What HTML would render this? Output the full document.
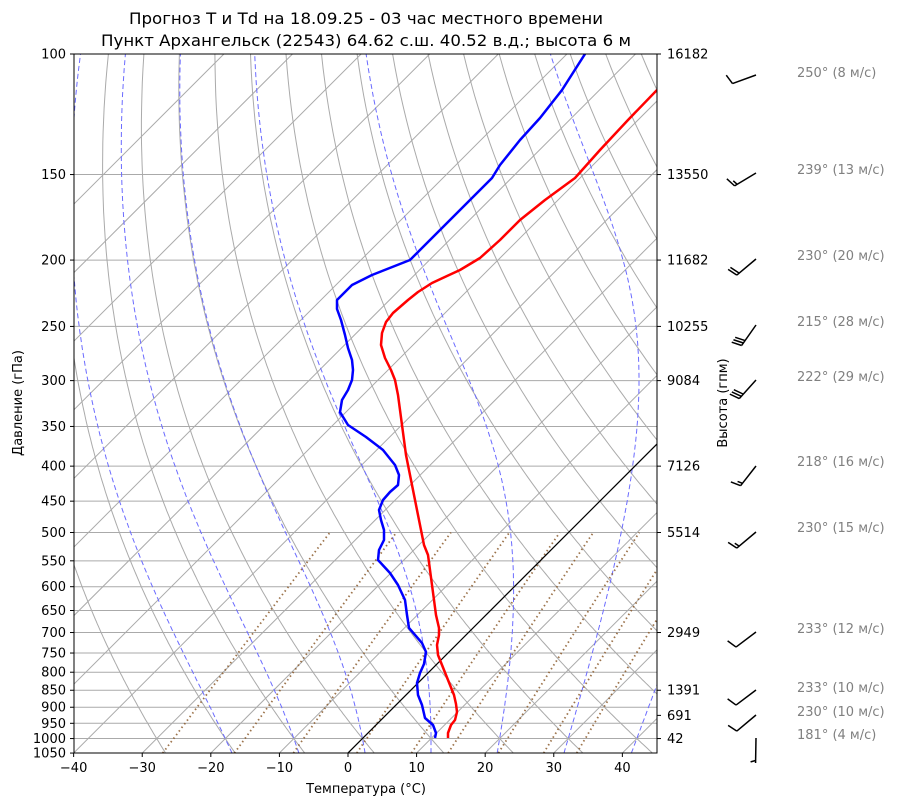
<!DOCTYPE html>
<html><head><meta charset="utf-8"><style>
html,body{margin:0;padding:0;background:#fff;width:900px;height:806px;overflow:hidden}
svg text{font-family:"DejaVu Sans","Liberation Sans",sans-serif}
</style></head><body>
<svg id="s" width="900" height="806" xmlns="http://www.w3.org/2000/svg">
<defs><clipPath id="c"><rect x="74" y="54" width="583" height="699"/></clipPath></defs>
<rect width="900" height="806" fill="#fff"/>
<g id="grid" clip-path="url(#c)"></g>
<g id="ax"></g>
<text x="366" y="24" font-size="16" text-anchor="middle" textLength="474" lengthAdjust="spacingAndGlyphs">Прогноз T и Td на 18.09.25 - 03 час местного времени</text>
<text x="366" y="46" font-size="16" text-anchor="middle" textLength="530" lengthAdjust="spacingAndGlyphs">Пункт Архангельск (22543) 64.62 с.ш. 40.52 в.д.; высота 6 м</text>
<text x="366" y="793" font-size="13" text-anchor="middle">Температура (°C)</text>
<text transform="translate(22,403) rotate(-90)" font-size="13" text-anchor="middle">Давление (гПа)</text>
<text transform="translate(727,403) rotate(-90)" font-size="13" text-anchor="middle">Высота (гпм)</text>
</svg>
<script>
var NS="http://www.w3.org/2000/svg";
function el(p,t,a){var e=document.createElementNS(NS,t);for(var k in a)e.setAttribute(k,a[k]);p.appendChild(e);return e;}
var g=document.getElementById('grid'),ax=document.getElementById('ax');
function Y(p){return 54+297.3*Math.log(p/100);}
function X(T,p){return 348+T*6.859+(753-Y(p));}
function pl(pts,a){var d=pts.map(function(q,i){return (i?'L':'M')+q[0].toFixed(1)+' '+q[1].toFixed(1)}).join('');a.d=d;a.fill='none';return el(g,'path',a);}
var P=[];for(var p=1050;p>=100;p-=5)P.push(p);
[100,150,200,250,300,350,400,450,500,550,600,650,700,750,800,850,900,950,1000,1050].forEach(function(p){el(g,'line',{x1:74,x2:657,y1:Y(p),y2:Y(p),stroke:'#aaa','stroke-width':1});});
for(var t=-120;t<=50;t+=10){pl([[X(t,1050),Y(1050)],[X(t,100),Y(100)]],{stroke:'#aaa','stroke-width':1});}
for(var t0=-30;t0<200;t0+=10){pl(P.map(function(p){return [X((t0+273.15)*Math.pow(p/1000,0.2857)-273.15,p),Y(p)]}),{stroke:'#aaa','stroke-width':1});}
function es(T){return 6.112*Math.exp(17.67*T/(T+243.5));}
function dTdp(T,p){var Tk=T+273.15,e=es(T),rs=0.622*e/(p-e),Rd=287.04,Lv=2.501e6,Cp=1005.7;return (Rd*Tk+Lv*rs)/(Cp+Lv*Lv*rs*0.622/(Rd*Tk*Tk))/p;}
function moist(t0){var up=[],T=t0,p=1000;up.push([T,p]);while(p>100){var h=-5;var k1=dTdp(T,p),k2=dTdp(T+h*k1/2,p+h/2),k3=dTdp(T+h*k2/2,p+h/2),k4=dTdp(T+h*k3,p+h);T+=h*(k1+2*k2+2*k3+k4)/6;p+=h;up.push([T,p]);}
T=t0;p=1000;var dn=[];while(p<1050){var h=5;var k1=dTdp(T,p),k2=dTdp(T+h*k1/2,p+h/2),k3=dTdp(T+h*k2/2,p+h/2),k4=dTdp(T+h*k3,p+h);T+=h*(k1+2*k2+2*k3+k4)/6;p+=h;dn.push([T,p]);}
return dn.reverse().concat(up);}
for(var t0=-50;t0<=40;t0+=10){var pts=moist(t0);if(t0<=-30)pts=pts.filter(function(q){return q[1]<=500;});pl(pts.map(function(q){return [X(q[0],q[1]),Y(q[1])]}),{stroke:'#6b6bff','stroke-width':1,'stroke-dasharray':'5,3'});}
[0.0004,0.001,0.002,0.004,0.007,0.01,0.016,0.024,0.032].forEach(function(w){var pts=[];for(var p=1050;p>=500;p-=10){var e=p*w/(0.622+w),l=Math.log(e/6.112),Td=243.5*l/(17.67-l);pts.push([X(Td,p),Y(p)]);}pl(pts,{stroke:'#8b5a2b','stroke-width':1.8,'stroke-dasharray':'1.5,3','opacity':0.85});});
pl([[X(0,1050),Y(1050)],[X(0,100),Y(100)]],{stroke:'#000','stroke-width':1.2});
var red=[[448,738],[448,733],[451,725],[455,720],[457,712],[456,704],[454,695],[450,685],[446,675],[442,665],[438,655],[437,645],[439,635],[439,628],[436,615],[434,600],[432,585],[430,570],[428,555],[424,545],[421,530],[418,515],[415,500],[412,485],[409,470],[406,455],[404,440],[402,425],[400,410],[398,395],[395,380],[391,370],[385,358],[381,345],[382,333],[386,322],[393,313],[408,300],[418,292],[432,283],[447,276],[460,270],[480,258],[500,240],[520,220],[545,200],[575,178],[600,150],[628,120],[657,90]];
var blue=[[435,738],[436,733],[433,725],[425,718],[422,705],[418,695],[417,683],[420,673],[424,664],[426,652],[422,643],[409,628],[407,615],[405,600],[398,585],[390,573],[378,560],[379,550],[384,540],[384,530],[381,520],[379,510],[383,500],[390,492],[398,485],[399,475],[395,465],[383,450],[366,437],[348,425],[340,412],[342,400],[348,390],[352,380],[353,370],[352,360],[348,348],[345,335],[341,320],[337,309],[337,300],[352,285],[372,275],[410,260],[440,230],[470,200],[492,178],[500,165],[520,140],[540,118],[562,90],[585,54]];
pl(red,{stroke:'#ff0000','stroke-width':2.5,'stroke-linejoin':'round'});
pl(blue,{stroke:'#0000ff','stroke-width':2.5,'stroke-linejoin':'round'});
el(ax,'rect',{x:74,y:54,width:583,height:699,fill:'none',stroke:'#000','stroke-width':1});
[100,150,200,250,300,350,400,450,500,550,600,650,700,750,800,850,900,950,1000,1050].forEach(function(p){var y=Y(p);el(ax,'line',{x1:70,x2:74,y1:y,y2:y,stroke:'#000'});var t=el(ax,'text',{x:66,y:y+4.5,'font-size':13,'text-anchor':'end'});t.textContent=p;});
for(var t=-40;t<=40;t+=10){var x=348+t*6.859;el(ax,'line',{x1:x,x2:x,y1:753,y2:757,stroke:'#000'});var tx=el(ax,'text',{x:x,y:772,'font-size':13,'text-anchor':'middle'});tx.textContent=(t<0?'\u2212'+(-t):t);}
[[100,16182],[150,13550],[200,11682],[250,10255],[300,9084],[400,7126],[500,5514],[700,2949],[850,1391],[925,691],[1000,42]].forEach(function(q){var y=Y(q[0]);el(ax,'line',{x1:657,x2:661,y1:y,y2:y,stroke:'#000'});var t=el(ax,'text',{x:667,y:y+4.5,'font-size':13});t.textContent=q[1];});
[[75,250,8,72],[173,239,13,169],[259,230,20,255],[325,215,28,321],[380,222,29,376],[466,218,16,461],[532,230,15,527],[632,233,12,628],[690,233,10,687],[715,230,10,711],[738,181,4,734]].forEach(function(b){
var bx=756,by=b[0],d=b[1]*Math.PI/180,L=25,ux=Math.sin(d),uy=-Math.cos(d);var tx=bx+ux*L,ty=by+uy*L;
el(ax,'line',{x1:bx,y1:by,x2:tx,y2:ty,stroke:'#000','stroke-width':1.5});
var r=Math.round(b[2]/5)*5,nf=Math.floor(r/10),h=(r%10)>=5;var px=-uy,py=ux,pos=0;
for(var i=0;i<nf;i++){var sx=tx-ux*pos,sy=ty-uy*pos;el(ax,'line',{x1:sx,y1:sy,x2:sx+px*10+ux*3,y2:sy+py*10+uy*3,stroke:'#000','stroke-width':1.5});pos+=3;}
if(h){if(nf==0)pos=2.5;var sx=tx-ux*pos,sy=ty-uy*pos;el(ax,'line',{x1:sx,y1:sy,x2:sx+px*5+ux*1.5,y2:sy+py*5+uy*1.5,stroke:'#000','stroke-width':1.5});}
var t=el(ax,'text',{x:797,y:b[3]+5,'font-size':13,fill:'#808080'});t.textContent=b[1]+'° ('+b[2]+' м/с)';});
</script>
</body></html>
